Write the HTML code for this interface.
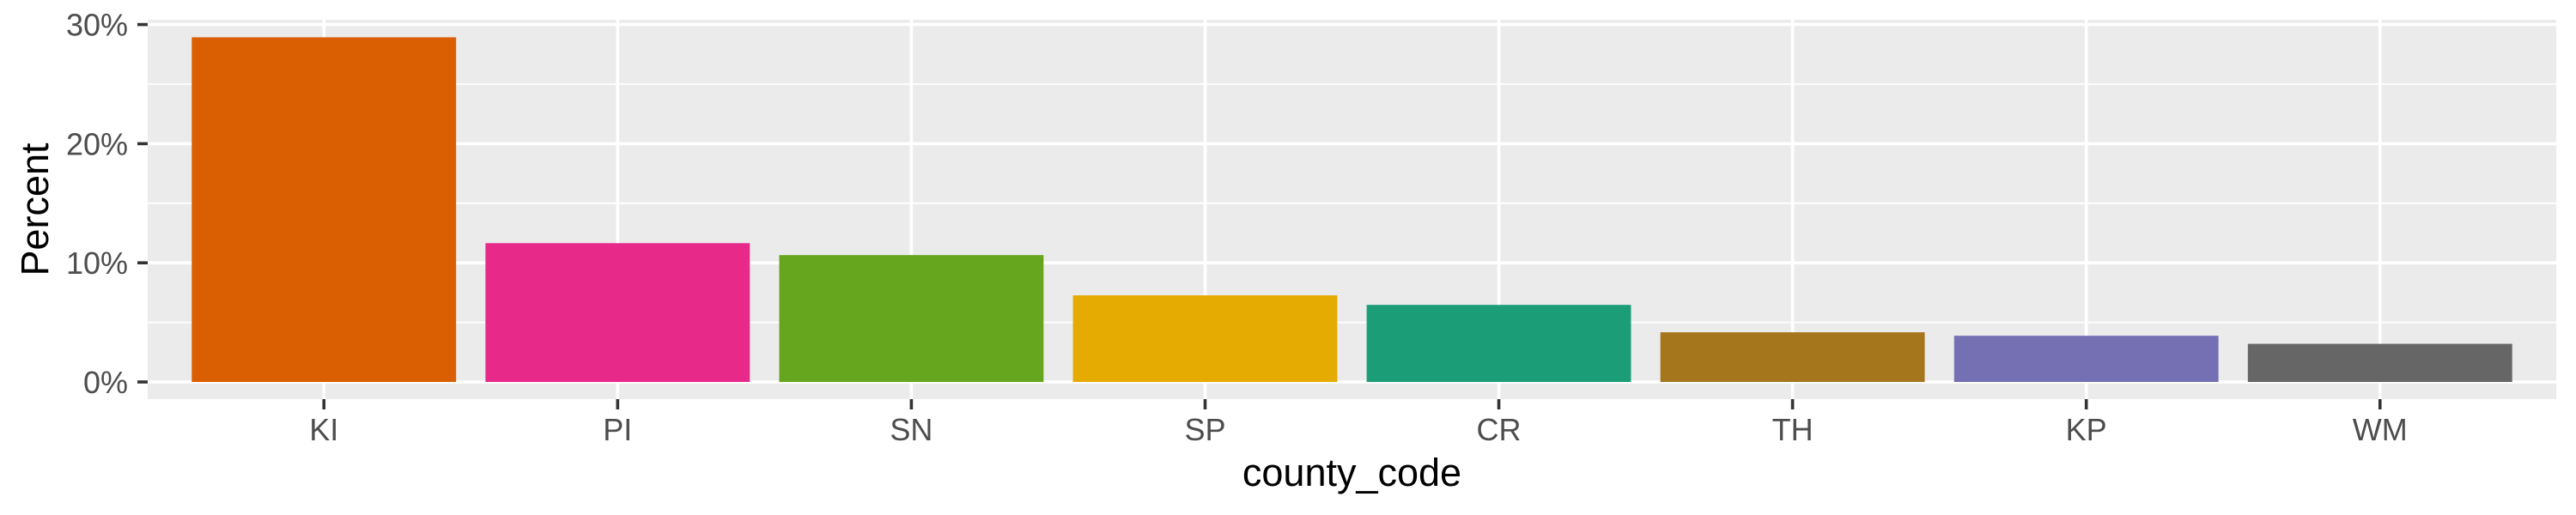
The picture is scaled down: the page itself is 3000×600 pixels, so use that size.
<!DOCTYPE html>
<html><head><meta charset="utf-8"><style>
html,body{margin:0;padding:0;background:#fff;}
svg{display:block;font-family:"Liberation Sans",Arial,sans-serif;}
</style></head><body>
<svg id="chart" width="3000" height="600" viewBox="0 0 3000 600" xmlns="http://www.w3.org/2000/svg">
<rect x="0" y="0" width="3000" height="600" fill="#fff"/>
<rect x="172" y="23" width="2805" height="442" fill="#ebebeb"/>
<g id="grid"></g>
<g id="bars"></g>
<g id="axes"></g>
<text x="1574.5" y="566" font-size="45" text-anchor="middle" fill="#000">county_code</text>
<text transform="translate(56,244) rotate(-90)" font-size="45" text-anchor="middle" fill="#000">Percent</text>
</svg>
<script>
const categories = ["KI","PI","SN","SP","CR","TH","KP","WM"];
const percentValues = [28.93, 11.65, 10.65, 7.27, 6.47, 4.17, 3.88, 3.2];
const barColors = ["#d95f02","#e7298a","#66a61e","#e6ab02","#1b9e77","#a6761d","#7570b3","#666666"];
const yTicks = [0, 10, 20, 30];
const yTickLabels = ["0%","10%","20%","30%"];
const yMinor = [5, 15, 25];

const NS = "http://www.w3.org/2000/svg";
const panelL = 172, panelR = 2977;
const step = (panelR - panelL) / (categories.length + 0.2);
function xScale(i){ return panelL + step * (0.6 + i); }
function yScale(v){ return 445 - v * 13.88; }
function mk(tag, attrs, parent){
  const e = document.createElementNS(NS, tag);
  for (const k in attrs) e.setAttribute(k, attrs[k]);
  parent.appendChild(e);
  return e;
}
const grid = document.getElementById('grid');
const bars = document.getElementById('bars');
const axes = document.getElementById('axes');

yMinor.forEach(v => {
  const l = mk('line', {x1: panelL, x2: panelR, y1: yScale(v), y2: yScale(v), stroke: '#fff', 'stroke-width': 1.8}, grid);
  
  
});
yTicks.forEach((v, i) => {
  const l = mk('line', {x1: panelL, x2: panelR, y1: yScale(v), y2: yScale(v), stroke: '#fff', 'stroke-width': 3.6}, grid);
  
  
  const t = mk('line', {x1: 160, x2: 172, y1: yScale(v), y2: yScale(v), stroke: '#333', 'stroke-width': 3.6}, axes);
  
  
  const tx = mk('text', {x: 149, y: yScale(v) + 13, 'font-size': 36, 'text-anchor': 'end', fill: '#4d4d4d'}, axes);
  tx.textContent = yTickLabels[i];
  
  
});
categories.forEach((c, i) => {
  const cx = xScale(i);
  const g = mk('line', {x1: cx, x2: cx, y1: 23, y2: 465, stroke: '#fff', 'stroke-width': 3.6}, grid);
  
  
  const w = step * 0.9;
  const top = yScale(percentValues[i]);
  const r = mk('rect', {x: cx - w / 2, y: top, width: w, height: yScale(0) - top, fill: barColors[i]}, bars);
  
  
  const t = mk('line', {x1: cx, x2: cx, y1: 465, y2: 477, stroke: '#333', 'stroke-width': 3.6}, axes);
  
  
  const tx = mk('text', {x: cx, y: 513, 'font-size': 36, 'text-anchor': 'middle', fill: '#4d4d4d'}, axes);
  tx.textContent = c;
  
  
});
</script>
</body></html>
